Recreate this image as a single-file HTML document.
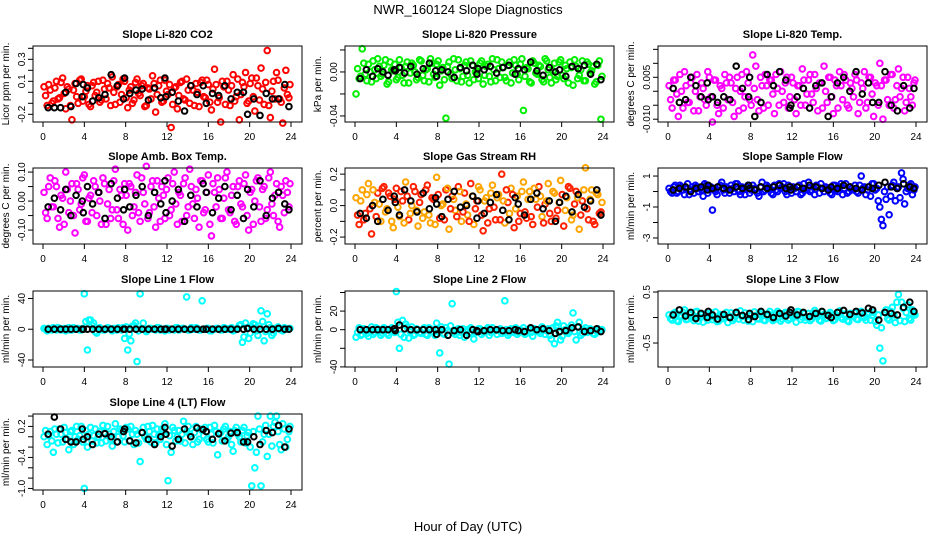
<!DOCTYPE html>
<html><head><meta charset="utf-8"><style>
body{margin:0;background:#fff}
svg{display:block;font-family:"Liberation Sans",sans-serif}
</style></head><body>
<svg id="chart" width="936" height="540" viewBox="0 0 936 540" xmlns="http://www.w3.org/2000/svg">
<rect width="936" height="540" fill="#fff"/>
<text x="468" y="14" text-anchor="middle" font-size="13">NWR_160124  Slope Diagnostics</text>
<text x="468" y="531" text-anchor="middle" font-size="13">Hour of Day (UTC)</text>
</svg>
<script>
const hours=[0.1,0.4,0.7,1.0,1.3,1.6,1.9,2.2,2.5,2.8,3.1,3.4,3.7,4.0,4.3,4.6,4.9,5.2,5.5,5.8,6.1,6.4,6.7,7.0,7.3,7.6,7.9,8.2,8.5,8.8,9.1,9.4,9.7,10.0,10.3,10.6,10.9,11.2,11.5,11.8,12.1,12.4,12.7,13.0,13.3,13.6,13.9,14.2,14.5,14.8,15.1,15.4,15.7,16.0,16.3,16.6,16.9,17.2,17.5,17.8,18.1,18.4,18.7,19.0,19.3,19.6,19.9,20.2,20.5,20.8,21.1,21.4,21.7,22.0,22.3,22.6,22.9,23.2,23.5,23.8];
const hours2=[0.25,0.55,0.85,1.15,1.45,1.75,2.05,2.35,2.65,2.95,3.25,3.55,3.85,4.15,4.45,4.75,5.05,5.35,5.65,5.95,6.25,6.55,6.85,7.15,7.45,7.75,8.05,8.35,8.65,8.95,9.25,9.55,9.85,10.15,10.45,10.75,11.05,11.35,11.65,11.95,12.25,12.55,12.85,13.15,13.45,13.75,14.05,14.35,14.65,14.95,15.25,15.55,15.85,16.15,16.45,16.75,17.05,17.35,17.65,17.95,18.25,18.55,18.85,19.15,19.45,19.75,20.05,20.35,20.65,20.95,21.25,21.55,21.85,22.15,22.45,22.75,23.05,23.35,23.65,23.9];
const blackHours=[0.5,1.1,1.7,2.2,2.7,3.2,3.8,3.9,4.3,4.8,5.4,6.0,6.6,7.2,7.8,7.9,8.4,9.0,9.6,10.2,10.8,11.4,11.8,11.9,12.5,13.1,13.7,14.3,14.9,15.5,15.8,16.4,17.0,17.6,18.2,18.8,19.4,19.8,20.4,21.0,21.6,22.2,22.8,23.4,23.8];
const xTicks=[0,4,8,12,16,20,24];

const co2Vals=[0.05,-0.12,0.02,-0.08,0.10,-0.05,0.13,-0.15,0.03,-0.25,0.08,-0.10,0.12,-0.04,0.06,-0.13,0.09,0.00,-0.09,0.11,-0.06,0.04,0.14,-0.11,0.07,-0.02,0.10,-0.14,0.05,-0.07,0.12,-0.03,0.08,-0.12,0.03,0.15,-0.18,0.06,-0.09,0.11,-0.02,-0.32,0.04,-0.15,0.09,-0.06,0.12,-0.10,0.02,0.08,-0.13,0.11,-0.05,0.07,-0.16,0.21,-0.09,-0.27,0.05,0.10,-0.12,0.16,-0.04,-0.25,0.09,0.18,-0.08,0.13,-0.17,0.06,0.22,-0.11,0.38,-0.23,0.10,0.18,-0.06,-0.28,0.20,-0.05];
const co2Vals2=[-0.03,0.07,-0.10,0.04,-0.06,0.09,-0.01,0.05,-0.12,0.02,-0.04,0.11,-0.08,0.01,-0.11,0.06,-0.03,0.10,-0.07,0.03,0.08,-0.12,0.00,0.05,-0.09,0.12,-0.05,0.02,-0.10,0.09,-0.01,0.06,-0.13,0.04,-0.06,0.08,-0.02,0.11,-0.08,0.01,0.07,-0.11,0.05,-0.03,0.10,-0.07,0.02,0.06,-0.12,0.00,0.09,-0.04,0.11,-0.09,0.03,0.07,-0.05,0.10,-0.11,0.02,0.06,-0.08,0.12,-0.02,0.05,-0.10,0.08,-0.04,0.13,-0.07,0.03,0.09,-0.12,0.01,-0.06,0.11,-0.09,0.04,-0.02,0.07];
const co2Black=[-0.14,-0.14,-0.14,0.00,-0.13,0.08,-0.04,0.07,0.04,-0.08,-0.05,-0.02,0.16,0.06,-0.06,0.13,-0.01,0.02,0.03,-0.07,0.04,-0.05,0.13,-0.04,0.00,-0.08,-0.17,0.06,-0.02,0.06,-0.10,-0.01,-0.03,0.06,-0.06,0.00,0.00,-0.20,-0.06,-0.21,-0.01,-0.06,-0.06,0.07,-0.13];
const presVals=[-0.020,-0.006,0.021,-0.002,0.007,-0.009,0.002,0.012,-0.004,0.006,-0.011,0.009,0.001,-0.007,0.011,-0.003,0.005,-0.010,0.008,0.000,-0.005,0.010,-0.008,0.003,0.012,-0.002,0.007,-0.012,0.004,-0.042,0.009,-0.006,0.002,0.011,-0.009,0.006,-0.003,0.010,-0.007,0.001,0.008,-0.011,0.005,-0.004,0.012,-0.008,0.003,0.009,-0.005,0.006,-0.010,0.011,-0.002,0.007,-0.035,0.004,-0.009,0.010,-0.001,0.006,-0.007,0.012,0.002,-0.010,0.008,-0.004,0.011,-0.006,0.003,0.009,-0.012,0.005,-0.003,0.010,-0.008,0.007,0.001,-0.011,0.006,-0.043];
const presVals2=[0.003,-0.004,0.008,-0.008,0.000,0.010,-0.006,0.005,-0.002,0.011,-0.009,0.002,0.007,-0.005,0.004,-0.010,0.009,-0.001,0.006,-0.007,0.011,-0.003,0.002,-0.009,0.008,-0.005,0.010,0.001,-0.007,0.005,-0.002,0.012,-0.008,0.003,-0.004,0.009,-0.010,0.006,0.000,-0.006,0.010,-0.003,0.007,-0.009,0.002,0.011,-0.005,0.004,-0.008,0.009,-0.001,0.006,-0.007,0.012,-0.004,0.003,-0.010,0.008,-0.002,0.005,-0.009,0.010,-0.005,0.001,-0.007,0.009,-0.003,0.006,-0.010,0.004,0.011,-0.006,0.002,-0.008,0.009,-0.001,0.005,-0.009,0.010,-0.004];
const presBlack=[-0.006,0.002,-0.004,0.003,0.000,-0.003,0.002,0.001,0.004,-0.001,0.005,-0.002,0.003,0.008,0.001,-0.004,0.002,0.000,-0.005,0.004,0.001,0.006,-0.002,0.003,0.002,0.005,-0.001,0.004,0.006,-0.002,0.003,0.002,0.009,0.001,-0.003,0.004,0.000,0.002,-0.004,0.005,0.003,0.006,-0.002,0.007,-0.007];
const tempVals=[0.002,-0.006,0.004,-0.009,0.000,0.007,-0.004,0.003,-0.007,0.006,-0.002,0.001,-0.005,0.005,-0.011,0.004,-0.008,0.001,0.006,-0.003,0.003,-0.009,0.005,0.000,-0.006,0.007,-0.003,0.013,0.009,-0.007,0.002,0.006,-0.005,0.004,-0.008,0.001,0.007,-0.004,0.005,-0.002,0.003,-0.008,0.002,0.008,-0.005,0.004,-0.001,0.006,-0.007,0.003,0.009,-0.004,0.005,-0.008,0.002,0.007,-0.003,0.004,-0.006,0.001,0.006,-0.008,0.003,0.007,-0.004,0.005,-0.009,0.002,0.010,-0.010,0.004,-0.005,0.006,-0.003,0.008,0.001,-0.007,0.005,-0.002,0.003];
const tempVals2=[-0.003,0.004,-0.001,0.006,-0.006,0.002,-0.004,0.005,0.000,-0.007,0.003,-0.003,0.007,-0.002,0.004,-0.005,0.002,-0.006,0.003,0.005,-0.004,0.001,-0.007,0.006,-0.002,0.003,-0.005,0.001,-0.003,0.005,-0.006,0.002,0.004,-0.001,0.006,-0.005,0.000,0.003,-0.006,0.005,-0.003,0.002,-0.005,0.004,-0.001,0.006,-0.004,0.001,0.003,-0.006,0.000,0.005,-0.002,0.004,-0.006,0.002,0.006,-0.005,0.003,-0.002,0.004,-0.004,0.001,-0.006,0.005,-0.001,0.003,-0.005,0.002,0.004,-0.003,0.006,-0.006,0.002,-0.002,0.005,-0.004,0.001,-0.005,0.004];
const tempBlack=[0.001,-0.004,-0.003,0.005,0.002,-0.002,0.003,-0.003,-0.002,-0.004,-0.002,-0.003,0.009,0.001,-0.002,0.005,-0.009,-0.004,0.006,0.002,0.007,0.004,-0.006,-0.005,-0.002,0.001,-0.006,0.002,0.003,-0.009,-0.002,0.003,0.005,0.000,0.007,-0.001,0.003,-0.004,-0.004,0.007,-0.005,-0.007,0.002,-0.006,0.001];
const ambVals=[0.03,-0.06,0.08,-0.02,0.05,-0.09,0.01,0.10,-0.04,0.06,-0.11,0.04,-0.01,0.09,-0.07,0.02,0.07,-0.05,0.00,0.08,-0.08,0.04,-0.03,0.11,-0.06,0.02,0.06,-0.10,0.05,-0.02,0.09,-0.07,0.03,0.12,-0.04,0.07,-0.09,0.01,0.05,-0.06,0.08,-0.03,0.10,-0.08,0.02,0.06,-0.05,0.11,-0.01,0.04,-0.09,0.07,-0.03,0.09,-0.12,0.03,0.08,-0.06,0.01,0.10,-0.04,0.05,-0.08,0.07,-0.02,0.09,-0.10,0.04,0.00,0.08,-0.07,0.05,-0.03,0.10,-0.05,0.06,-0.09,0.02,0.07,-0.02];
const ambVals2=[-0.04,0.05,-0.02,0.07,-0.06,0.02,-0.08,0.04,0.00,-0.05,0.06,-0.03,0.08,-0.07,0.01,-0.04,0.05,0.03,-0.08,0.06,-0.01,-0.06,0.07,-0.03,0.04,-0.08,0.02,0.06,-0.05,0.03,-0.04,0.08,-0.01,-0.06,0.05,-0.02,0.07,-0.07,0.02,0.04,-0.05,0.06,-0.01,0.03,-0.07,0.08,-0.02,0.05,-0.06,0.01,0.07,-0.04,0.03,-0.08,0.06,-0.02,0.04,-0.06,0.08,-0.03,0.02,-0.07,0.05,-0.01,0.06,-0.05,0.03,-0.08,0.07,-0.02,0.04,-0.06,0.08,-0.01,0.02,-0.07,0.05,-0.04,0.03,0.06];
const ambBlack=[-0.02,0.01,-0.03,0.04,-0.05,0.02,0.00,-0.04,0.05,-0.01,0.03,-0.06,0.06,0.01,-0.03,0.04,-0.02,0.02,0.05,-0.05,0.03,-0.01,0.07,-0.04,0.00,0.04,-0.07,0.02,-0.02,0.06,0.03,-0.04,0.01,0.05,-0.03,0.02,-0.06,0.04,-0.02,0.07,-0.05,0.01,0.03,-0.01,-0.03];
const rhVals=[0.05,-0.12,0.10,-0.05,0.14,-0.18,0.02,0.08,-0.10,0.12,-0.02,0.06,-0.14,0.11,-0.07,0.03,0.15,-0.09,0.00,0.09,-0.13,0.07,-0.04,0.13,-0.11,0.04,0.18,-0.08,0.01,0.10,-0.15,0.06,-0.03,0.12,-0.10,0.08,-0.06,0.14,-0.12,0.03,0.10,-0.16,0.05,-0.02,0.13,-0.09,0.07,0.20,-0.11,0.02,0.11,-0.14,0.06,-0.05,0.15,-0.08,0.09,-0.12,0.04,0.12,-0.07,0.01,0.14,-0.10,0.08,-0.03,0.16,-0.13,0.05,0.11,-0.06,0.09,-0.15,0.03,0.24,-0.09,0.10,-0.12,0.07,-0.04];
const rhVals2=[-0.06,0.03,-0.09,0.07,-0.02,0.10,-0.07,0.01,0.11,-0.04,0.08,-0.10,0.04,-0.01,0.09,-0.11,0.06,-0.05,0.12,-0.03,0.02,-0.08,0.10,-0.06,0.05,-0.12,0.07,0.00,-0.09,0.11,-0.02,0.04,-0.07,0.09,-0.04,0.01,-0.10,0.06,-0.02,0.12,-0.06,0.03,-0.11,0.08,-0.01,0.05,-0.09,0.03,0.10,-0.05,0.07,-0.02,-0.10,0.09,-0.04,0.04,-0.07,0.11,-0.01,0.06,-0.11,0.03,-0.05,0.09,-0.08,0.02,0.07,-0.03,0.12,-0.09,0.01,0.05,-0.06,0.10,-0.02,0.04,-0.10,0.08,-0.05,0.02];
const rhBlack=[-0.05,-0.08,0.00,-0.10,0.04,-0.03,0.06,0.02,-0.06,0.10,0.03,-0.04,0.08,-0.02,0.05,0.01,-0.07,0.04,0.09,-0.01,0.00,0.06,-0.08,0.03,-0.05,0.02,0.07,-0.03,-0.09,0.05,0.01,-0.06,0.04,0.08,-0.02,0.03,-0.10,0.02,0.06,-0.04,0.07,-0.01,0.03,0.10,-0.06];
const sampVals=[0.2,-0.1,0.4,0.0,0.3,-0.2,0.5,0.1,-0.1,0.3,0.2,-0.3,0.4,0.1,-1.2,0.0,0.3,0.6,-0.1,0.2,0.4,0.0,0.5,-0.2,0.1,0.3,-0.1,0.4,0.2,-0.3,0.6,0.1,0.3,-0.1,0.4,0.0,0.2,0.5,-0.2,0.1,0.3,0.0,0.4,-0.1,0.2,0.6,0.1,-0.2,0.3,0.5,0.0,0.2,-0.1,0.4,0.1,0.3,-0.2,0.5,0.0,0.2,0.4,-0.1,1.0,0.3,0.1,-0.3,0.5,0.2,-1.0,-2.2,-0.5,-1.5,0.4,-0.6,0.3,1.2,-0.8,0.2,0.5,0.1];
const sampVals2=[0.0,0.3,-0.1,0.4,0.1,0.2,-0.2,0.3,0.4,0.0,0.1,0.5,-0.1,0.3,0.2,-0.2,0.4,0.1,0.3,-0.1,0.2,0.5,0.0,0.3,-0.2,0.4,0.1,0.2,-0.1,0.3,0.0,0.4,0.2,-0.2,0.1,0.5,0.3,0.0,0.4,-0.1,0.2,0.3,-0.2,0.5,0.1,0.0,0.3,0.4,-0.1,0.2,0.3,0.1,-0.2,0.4,0.0,0.5,0.2,-0.1,0.3,0.1,0.0,0.4,0.2,-0.2,0.3,0.5,0.1,-0.6,-1.8,0.0,0.3,-0.3,0.6,0.2,-0.4,0.8,0.0,0.4,-0.2,0.3];
const sampBlack=[0.1,0.2,0.3,0.0,0.2,0.3,0.1,0.4,0.2,0.3,0.2,0.1,0.3,0.2,0.4,0.2,0.1,0.3,0.2,0.3,0.4,0.2,0.3,0.1,0.3,0.2,0.4,0.3,0.2,0.1,0.3,0.2,0.4,0.3,0.2,0.1,0.3,0.2,0.4,0.6,0.3,0.2,0.5,0.3,0.2];
const l1Vals=[1,-2,0,2,-1,1,0,-2,2,-1,0,1,-1,46,-27,12,8,-5,2,-1,0,1,-2,0,2,-1,-12,-27,-15,5,-42,46,8,-3,1,0,-1,2,0,-2,1,0,-1,2,0,1,42,-1,0,2,-1,37,0,1,-2,0,1,-1,2,0,1,-2,0,5,-17,8,-12,3,6,-8,24,-15,20,2,-5,1,0,-2,1,0];
const l1Vals2=[0,1,-1,0,2,-1,1,0,-1,2,0,-1,1,10,12,5,-3,1,0,-1,2,0,1,-1,0,2,3,-6,4,8,-2,1,0,-1,1,0,2,-1,0,1,-1,0,2,-1,1,0,-1,2,0,1,-1,0,1,-2,0,1,0,-1,1,0,2,-1,1,6,-10,2,-5,7,-2,4,10,-3,6,-8,1,3,-1,2,0,1];
const l1Black=[0,0,0,0,0,0,0,0,0,0,0,0,0,0,0,0,0,0,0,0,0,0,0,0,0,0,0,0,0,0,0,0,0,0,0,0,0,1,0,0,0,0,1,0,0];
const l2Vals=[-8,2,-5,0,-7,3,-3,1,-6,2,-4,0,-2,41,-20,10,6,-9,3,-5,0,-4,2,-6,1,-3,7,-25,-4,2,-37,28,-5,1,-3,-8,0,2,-10,-2,1,-3,0,-6,2,-1,0,-4,31,-6,1,-3,-5,0,2,-4,1,-7,0,-2,3,-5,1,-10,-15,8,-11,4,-3,2,18,-11,8,-4,2,-2,0,-5,1,-1];
const l2Vals2=[-3,-6,1,-4,-1,-5,2,-2,-4,0,-6,2,-3,8,-5,-8,3,-2,-6,1,-3,0,-5,2,-2,-6,1,3,-5,-1,4,-3,0,-6,1,-2,-4,0,-3,1,-5,-1,2,-3,-1,-5,1,-2,0,-4,-1,2,-3,-1,-5,0,-3,1,-2,-4,0,-1,-6,2,4,-3,-7,0,-4,5,-2,3,-6,0,-3,1,-4,-1,-2,0];
const l2Black=[0,0,0,0,0,0,1,-1,5,1,0,0,0,0,0,-5,0,-6,-1,0,-6,0,-1,-2,-1,0,0,-1,-1,0,-1,-2,2,0,1,-1,-4,-2,-1,2,3,-2,-1,1,-2];
const l3Vals=[0.05,-0.05,0.10,-0.08,0.02,0.15,-0.03,0.07,-0.06,0.12,0.00,-0.09,0.08,0.03,-0.04,0.11,-0.07,0.05,0.01,-0.10,0.09,-0.02,0.06,0.13,-0.05,0.02,0.08,-0.08,0.04,-0.03,0.10,-0.06,0.07,0.00,-0.04,0.12,-0.07,0.03,0.09,-0.02,0.05,-0.09,0.11,0.01,-0.05,0.08,-0.03,0.14,0.02,-0.07,0.06,-0.01,0.10,-0.06,0.04,0.13,-0.03,0.07,-0.08,0.02,0.09,-0.04,0.12,0.00,0.06,-0.05,0.10,-0.15,-0.60,-0.85,0.15,-0.05,0.20,-0.10,0.45,0.30,-0.08,0.25,-0.05,0.08];
const l3Vals2=[-0.02,0.08,-0.06,0.04,0.10,-0.04,0.06,0.00,0.11,-0.07,0.05,0.02,-0.05,0.09,0.01,-0.08,0.06,-0.02,0.10,0.03,-0.06,0.07,-0.03,0.02,0.09,-0.07,0.04,0.11,-0.02,0.06,-0.05,0.03,0.12,-0.06,0.08,0.01,-0.03,0.10,-0.05,0.06,0.02,0.12,-0.04,0.07,0.00,-0.06,0.09,0.03,-0.05,0.11,-0.02,0.07,0.01,-0.04,0.10,0.00,0.05,-0.06,0.08,0.03,-0.03,0.11,0.02,-0.05,0.09,0.04,-0.08,0.05,-0.20,0.10,-0.02,0.12,0.05,0.30,-0.06,0.18,0.10,-0.02,0.15,0.05];
const l3Black=[0.05,0.15,0.03,0.10,-0.02,0.08,0.00,0.12,0.05,-0.03,0.06,0.00,0.10,0.04,-0.04,0.08,0.02,0.12,0.06,0.00,0.08,0.03,0.10,0.15,0.05,0.10,0.02,0.08,0.12,0.04,0.00,0.10,0.14,0.06,0.12,0.09,0.18,0.15,-0.05,0.10,0.08,0.05,0.20,0.30,0.12];
const l4Vals=[0.00,-0.15,0.10,-0.30,0.05,0.15,-0.10,0.08,-0.25,0.12,0.00,-0.05,0.20,-1.00,-0.20,0.18,0.02,-0.12,0.10,0.22,-0.08,0.05,-0.18,0.25,0.00,0.12,-0.10,0.15,0.20,-0.15,0.05,-0.48,0.18,-0.05,0.10,0.22,-0.12,0.02,0.15,0.25,-0.85,-0.30,0.12,0.00,-0.08,0.30,0.10,0.05,-0.15,0.20,-0.05,0.12,0.18,-0.10,0.05,0.22,-0.35,0.08,0.15,-0.05,0.10,-0.28,0.18,0.00,0.12,-0.12,0.08,-0.95,-0.60,0.40,-0.95,0.05,-0.38,0.40,0.20,0.40,-0.15,0.25,-0.20,0.10];
const l4Vals2=[0.12,0.02,-0.08,0.15,-0.12,0.05,0.18,-0.05,0.10,-0.15,0.20,0.02,-0.10,0.12,0.05,-0.08,0.15,0.00,-0.12,0.08,0.20,-0.05,0.10,-0.10,0.15,0.02,0.18,-0.08,0.05,0.12,-0.12,0.08,0.00,0.20,-0.10,0.05,0.15,-0.05,0.10,-0.15,0.02,0.18,-0.08,0.12,0.05,-0.12,0.20,0.00,0.08,-0.10,0.15,0.02,-0.05,0.18,-0.12,0.10,0.05,-0.08,0.20,0.00,-0.15,0.12,0.05,-0.10,0.18,0.02,-0.20,0.10,-0.30,0.15,-0.10,0.22,0.05,-0.18,0.28,0.10,-0.25,0.15,-0.05,0.20];
const l4Black=[0.05,0.38,0.15,-0.05,-0.10,-0.10,0.15,-0.05,0.00,-0.15,0.05,0.06,0.00,-0.10,0.10,0.15,-0.08,-0.12,0.08,-0.05,-0.15,0.00,0.18,0.05,-0.18,-0.05,0.15,0.00,0.17,0.14,0.10,-0.05,0.06,-0.08,0.07,0.08,-0.10,-0.10,0.00,-0.15,0.12,0.08,0.22,-0.20,0.15];

const panels=[
 {name:'co2',title:'Slope Li-820 CO2',ylab:'Licor ppm per min.',col:0,row:0,dom:[-0.27,0.421],ticks:[-0.2,-0.1,0,0.1,0.2,0.3,0.4],labels:['-0.2','0.1','0.3'],vals:co2Vals,vals2:co2Vals2,blk:co2Black,color:'#ff0000'},
 {name:'pressure',title:'Slope Li-820 Pressure',ylab:'kPa per min.',col:1,row:0,dom:[-0.0455,0.0236],ticks:[-0.04,-0.02,0,0.02],labels:['-0.04','0.00'],vals:presVals,vals2:presVals2,blk:presBlack,color:'#00ee00'},
 {name:'temp',title:'Slope Li-820 Temp.',ylab:'degrees C per min.',col:2,row:0,dom:[-0.011,0.0162],ticks:[-0.01,-0.005,0,0.005,0.01,0.015],labels:['-0.010','0.005'],vals:tempVals,vals2:tempVals2,blk:tempBlack,color:'#ff00ff'},
 {name:'amb-box-temp',title:'Slope Amb. Box Temp.',ylab:'degrees C per min.',col:0,row:1,dom:[-0.148,0.114],ticks:[-0.1,-0.05,0,0.05,0.1],labels:['-0.10','0.00','0.10'],vals:ambVals,vals2:ambVals2,blk:ambBlack,color:'#ff00ff'},
 {name:'gas-rh',title:'Slope Gas Stream RH',ylab:'percent per min.',col:1,row:1,dom:[-0.244,0.239],ticks:[-0.2,-0.1,0,0.1,0.2],labels:['-0.2','0.0','0.2'],vals:rhVals,vals2:rhVals2,blk:rhBlack,color:'#ffa500',alt:'#ff2000'},
 {name:'sample-flow',title:'Slope Sample Flow',ylab:'ml/min per min.',col:2,row:1,dom:[-3.39,1.52],ticks:[-3,-2,-1,0,1],labels:['-3','-1','1'],vals:sampVals,vals2:sampVals2,blk:sampBlack,color:'#0000ff'},
 {name:'line1-flow',title:'Slope Line 1 Flow',ylab:'ml/min per min.',col:0,row:2,dom:[-49.1,49.7],ticks:[-40,0,40],labels:['-40','0','40'],vals:l1Vals,vals2:l1Vals2,blk:l1Black,color:'#00ffff'},
 {name:'line2-flow',title:'Slope Line 2 Flow',ylab:'ml/min per min.',col:1,row:2,dom:[-40.1,41.6],ticks:[-40,-20,0,20,40],labels:['-40','0','20'],vals:l2Vals,vals2:l2Vals2,blk:l2Black,color:'#00ffff'},
 {name:'line3-flow',title:'Slope Line 3 Flow',ylab:'ml/min per min.',col:2,row:2,dom:[-0.97,0.52],ticks:[-0.5,0,0.5],labels:['-0.5','0.5'],vals:l3Vals,vals2:l3Vals2,blk:l3Black,color:'#00ffff'},
 {name:'line4-flow',title:'Slope Line 4 (LT) Flow',ylab:'ml/min per min.',col:0,row:3,dom:[-1.03,0.44],ticks:[-1,-0.8,-0.6,-0.4,-0.2,0,0.2,0.4],labels:['-1.0','-0.4','0.2'],vals:l4Vals,vals2:l4Vals2,blk:l4Black,color:'#00ffff'}
];
const colLeft=[33,345,658], rowTop=[46,168,291,414], W=269, H=76;
const NS='http://www.w3.org/2000/svg';
const svg=document.getElementById('chart');
function mk(tag,attrs,parent){const e=document.createElementNS(NS,tag);for(const k in attrs)e.setAttribute(k,attrs[k]);(parent||svg).appendChild(e);return e;}
function fmt(v,labels){for(const l of labels){if(Math.abs(parseFloat(l)-v)<1e-9)return l;}return null;}
panels.forEach(p=>{
  const L=colLeft[p.col],T=rowTop[p.row],B=T+H;
  const xs=h=>L+10+h*(248/24);
  const ys=v=>B-(v-p.dom[0])/(p.dom[1]-p.dom[0])*H;
  const g=mk('g',{});
  
  
  const t=mk('text',{x:L+W/2,y:T-8,'text-anchor':'middle','font-size':'11','font-weight':'bold'},g);
  t.textContent=p.title;
  
  
  const yl=mk('text',{x:0,y:0,'text-anchor':'middle','font-size':'10',transform:`translate(${L-24},${T+H/2}) rotate(-90)`},g);
  yl.textContent=p.ylab;
  
  
  const pts=mk('g',{fill:'none','stroke-width':'2'},g);
  
  
  const n=Math.min(hours.length,p.vals.length);
  for(let i=0;i<n;i++){
    const c=mk('circle',{cx:xs(hours[i]),cy:ys(p.vals[i]),r:2.8,stroke:(p.alt&&i%2)?p.alt:p.color},pts);
    
    
  }
  const n2=Math.min(hours2.length,p.vals2.length);
  for(let i=0;i<n2;i++){
    const c=mk('circle',{cx:xs(hours2[i]),cy:ys(p.vals2[i]),r:2.8,stroke:(p.alt&&i%2==0)?p.alt:p.color},pts);
    
    
  }
  const m=Math.min(blackHours.length,p.blk.length);
  for(let i=0;i<m;i++){
    const c=mk('circle',{cx:xs(blackHours[i]),cy:ys(p.blk[i]),r:2.8,stroke:'#000'},pts);
    
    
  }
  const box=mk('rect',{x:L,y:T,width:W,height:H,fill:'none',stroke:'#000','stroke-width':'1'},g);
  
  
  const xa=mk('g',{stroke:'#000','stroke-width':'1'},g);
  
  
  mk('line',{x1:xs(xTicks[0]),x2:xs(xTicks[xTicks.length-1]),y1:B,y2:B},xa);
  xTicks.forEach(h=>{
    mk('line',{x1:xs(h),x2:xs(h),y1:B,y2:B+5},xa);
    const tx=mk('text',{x:xs(h),y:B+18,'text-anchor':'middle','font-size':'10',stroke:'none',fill:'#000'},xa);
    tx.textContent=String(h);
    
    
  });
  const ya=mk('g',{stroke:'#000','stroke-width':'1'},g);
  
  
  mk('line',{x1:L,x2:L,y1:ys(p.ticks[0]),y2:ys(p.ticks[p.ticks.length-1])},ya);
  p.ticks.forEach(v=>{
    mk('line',{x1:L-5,x2:L,y1:ys(v),y2:ys(v)},ya);
    const lab=fmt(v,p.labels);
    if(lab!==null){
      const ty=mk('text',{x:0,y:0,'text-anchor':'middle','font-size':'10',stroke:'none',fill:'#000',transform:`translate(${L-8},${ys(v)}) rotate(-90)`},ya);
      ty.textContent=lab;
      
      
    }
  });
});
</script>
</body></html>
